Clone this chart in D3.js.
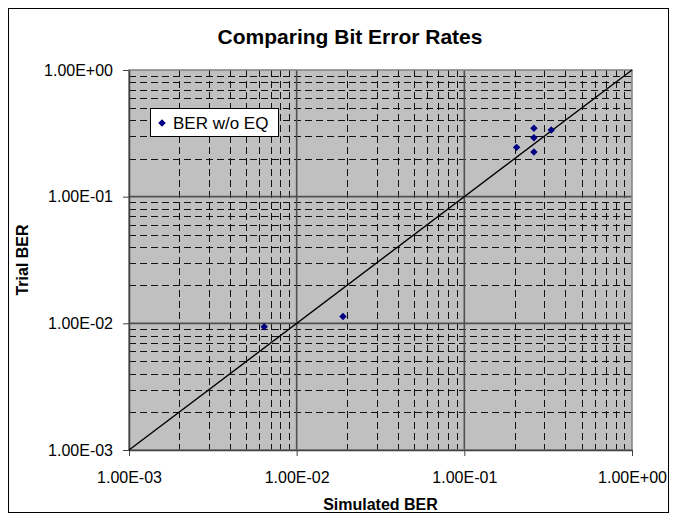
<!DOCTYPE html>
<html>
<head>
<meta charset="utf-8">
<script src="https://cdn.jsdelivr.net/npm/d3@7"></script>
<style>
    body { margin: 0; background: #fff; }
    text { font-family: Arial, "Liberation Sans", sans-serif; fill: #000; }
</style>
</head>
<body>
<div id="chart"></div>
<script>
// values
const simulatedBER = [0.0064, 0.0189, 0.205, 0.26, 0.26, 0.26, 0.33];
const trialBER = [0.0094, 0.0113, 0.245, 0.225, 0.292, 0.347, 0.336];
const seriesName = 'BER w/o EQ';
const decadeTicks = [1e-3, 1e-2, 1e-1, 1];
const decadeLabels = ['1.00E-03', '1.00E-02', '1.00E-01', '1.00E+00'];
const referenceLine = [1e-3, 1];

class BerChart {
    constructor(_config) {
        this.config = {
            parentElement: _config.parentElement,
            containerWidth: 677,
            containerHeight: 517,
            margin: { top: 70, right: 45, bottom: 67, left: 129 }
        };
        this.initVis();
    }

    initVis() {
        let vis = this;
        vis.width = vis.config.containerWidth - vis.config.margin.left - vis.config.margin.right;
        vis.height = vis.config.containerHeight - vis.config.margin.top - vis.config.margin.bottom;

        vis.svg = d3.select(vis.config.parentElement)
            .append('svg')
            .attr('width', vis.config.containerWidth)
            .attr('height', vis.config.containerHeight);

        // outer chart frame
        vis.svg.append('rect')
            .attr('x', 8.5).attr('y', 8.5)
            .attr('width', 660).attr('height', 504)
            .attr('fill', '#fff')
            .attr('stroke', '#000');

        vis.svg.append('text')
            .attr('x', 350)
            .attr('y', 44)
            .attr('text-anchor', 'middle')
            .style('font-size', '21px')
            .style('font-weight', 'bold')
            .text('Comparing Bit Error Rates');

        vis.chart = vis.svg.append('g')
            .attr('transform', `translate(${vis.config.margin.left},${vis.config.margin.top})`);

        vis.xScale = d3.scaleLog().domain([1e-3, 1]).range([0, vis.width]);
        vis.yScale = d3.scaleLog().domain([1e-3, 1]).range([vis.height, 0]);

        vis.chart.append('rect')
            .attr('width', vis.width)
            .attr('height', vis.height)
            .attr('fill', '#c0c0c0');

        vis.updateVis();
    }

    updateVis() {
        let vis = this;

        // minor values 2..9 in every decade
        let minor = [];
        decadeTicks.slice(0, -1).forEach(d => {
            for (let k = 2; k <= 9; k++) minor.push(d * k);
        });

        vis.chart.append('g').selectAll('line')
            .data(minor)
            .join('line')
            .attr('x1', 0).attr('x2', vis.width)
            .attr('y1', d => Math.round(vis.yScale(d)) + 0.5)
            .attr('y2', d => Math.round(vis.yScale(d)) + 0.5)
            .attr('stroke', '#111')
            .attr('stroke-dasharray', '7,4');

        vis.chart.append('g').selectAll('line')
            .data(minor)
            .join('line')
            .attr('y1', 0).attr('y2', vis.height)
            .attr('x1', d => Math.round(vis.xScale(d)) + 0.5)
            .attr('x2', d => Math.round(vis.xScale(d)) + 0.5)
            .attr('stroke', '#111')
            .attr('stroke-dasharray', '7,4');

        // major grid
        vis.chart.append('g').selectAll('line')
            .data(decadeTicks.slice(1, -1))
            .join('line')
            .attr('x1', 0).attr('x2', vis.width)
            .attr('y1', d => vis.yScale(d)).attr('y2', d => vis.yScale(d))
            .attr('stroke', '#505050').attr('stroke-width', 1.6);

        vis.chart.append('g').selectAll('line')
            .data(decadeTicks.slice(1, -1))
            .join('line')
            .attr('y1', 0).attr('y2', vis.height)
            .attr('x1', d => vis.xScale(d)).attr('x2', d => vis.xScale(d))
            .attr('stroke', '#505050').attr('stroke-width', 1.6);

        vis.chart.append('rect')
            .attr('width', vis.width)
            .attr('height', vis.height)
            .attr('fill', 'none')
            .attr('stroke', '#808080')
            .attr('stroke-width', 1.5);

        // axes
        vis.xAxis = d3.axisBottom(vis.xScale)
            .tickValues(decadeTicks)
            .tickFormat((d, i) => decadeLabels[i])
            .tickSizeInner(6).tickSizeOuter(0).tickPadding(16);
        vis.yAxis = d3.axisLeft(vis.yScale)
            .tickValues(decadeTicks)
            .tickFormat((d, i) => decadeLabels[i])
            .tickSizeInner(6).tickSizeOuter(0).tickPadding(10);

        vis.xAxisG = vis.chart.append('g')
            .attr('transform', `translate(0,${vis.height})`)
            .call(vis.xAxis);
        vis.yAxisG = vis.chart.append('g').call(vis.yAxis);

        [vis.xAxisG, vis.yAxisG].forEach(g => {
            g.select('.domain').attr('stroke', '#404040').attr('stroke-width', 1.5);
            g.selectAll('.tick line').attr('stroke', '#404040');
            g.selectAll('.tick text')
                .style('font-family', 'Arial, "Liberation Sans", sans-serif')
                .style('font-size', '16px');
        });

        vis.chart.append('text')
            .attr('x', vis.width / 2)
            .attr('y', vis.height + 60)
            .attr('text-anchor', 'middle')
            .style('font-size', '16px')
            .style('font-weight', 'bold')
            .text('Simulated BER');

        vis.chart.append('text')
            .attr('transform', `translate(${-129 + 28},${vis.height / 2}) rotate(-90)`)
            .attr('text-anchor', 'middle')
            .style('font-size', '16px')
            .style('font-weight', 'bold')
            .text('Trial BER');

        // y = x reference line
        vis.chart.append('path')
            .datum(referenceLine)
            .attr('fill', 'none')
            .attr('stroke', '#000')
            .attr('stroke-width', 1.4)
            .attr('d', d3.line().x(d => vis.xScale(d)).y(d => vis.yScale(d)));

        let diamond = d3.symbol(d3.symbolSquare, 28);
        vis.chart.append('g').selectAll('path')
            .data(simulatedBER.map((d, i) => ({ x: d, y: trialBER[i] })))
            .join('path')
            .attr('d', diamond)
            .attr('transform', d => `translate(${vis.xScale(d.x)},${vis.yScale(d.y)}) rotate(45)`)
            .attr('fill', '#000080');

        // legend
        let legend = vis.svg.append('g').attr('transform', 'translate(150,108)');
        legend.append('rect')
            .attr('x', 0.5).attr('y', 0.5)
            .attr('width', 128).attr('height', 28)
            .attr('fill', '#fff').attr('stroke', '#000');
        legend.append('path')
            .attr('d', diamond)
            .attr('transform', 'translate(12,15) rotate(45)')
            .attr('fill', '#000080');
        legend.append('text')
            .attr('x', 23).attr('y', 21)
            .style('font-size', '17px')
            .text(seriesName);
    }
}

new BerChart({ parentElement: '#chart' });
</script>
</body>
</html>
